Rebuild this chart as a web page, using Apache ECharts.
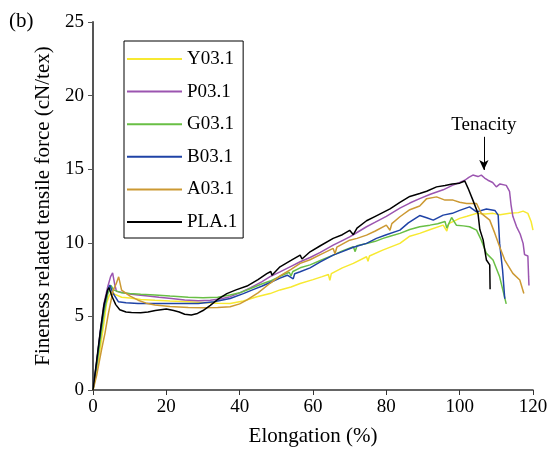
<!DOCTYPE html>
<html>
<head>
<meta charset="utf-8">
<script src="https://cdn.jsdelivr.net/npm/echarts@6/dist/echarts.min.js"></script>
<style>
  html, body { margin: 0; padding: 0; background: #fff; }
  #chart { width: 552px; height: 459px; }
</style>
</head>
<body>
<div id="chart"></div>
<script>
// elongation (%) / force (cN/tex) pairs
const Y031 = [[0,0],[1,1.3],[2,2.9],[3,4.6],[3.7,5.9],[4.4,6.4],[5.1,6.67],[6,6.5],[7.8,6.3],[10,6.25],[13,6.15],[16.9,6.1],[21,6.05],[26,6.0],[30,5.95],[34,5.9],[37.4,5.88],[41,6.05],[44.7,6.33],[48.3,6.55],[51,6.8],[54,7.0],[56.5,7.24],[60,7.5],[62.5,7.7],[64.2,7.85],[64.6,7.45],[65,7.9],[68,8.3],[71,8.6],[74.6,9.05],[75,8.75],[75.4,9.1],[79,9.5],[83.7,9.96],[86.4,10.45],[89.1,10.64],[92,10.9],[95.5,11.2],[96.5,10.8],[97,11.3],[100,11.66],[102,11.8],[104.6,12.0],[107,11.95],[109.1,12.0],[111,11.9],[113.6,12.0],[116,12.05],[117.3,12.15],[118.6,12.0],[119.5,11.43],[120,10.86]];
const P031 = [[0,0],[1,1.8],[2,4.0],[3,5.9],[4,7.0],[4.8,7.7],[5.35,7.96],[5.9,7.2],[6.4,6.7],[8,6.62],[10,6.52],[12.3,6.45],[15,6.38],[18,6.3],[21.4,6.22],[25,6.12],[28.7,6.07],[32,6.1],[35,6.2],[37.4,6.34],[40,6.6],[43,6.95],[46,7.35],[48.3,7.7],[51,8.03],[54,8.4],[56.5,8.71],[59.2,9.0],[62,9.35],[65.5,9.84],[68,10.15],[70,10.4],[72,10.7],[74.6,11.09],[77,11.4],[80,11.8],[83.7,12.35],[86.4,12.7],[89.1,13.0],[92,13.3],[95.5,13.6],[98,13.9],[100,14.1],[101.4,14.25],[102.5,14.45],[103.6,14.6],[105,14.5],[105.9,14.6],[106.8,14.4],[107.7,14.25],[109,14.1],[110,13.8],[111,14.0],[112.7,13.9],[113.6,13.5],[114,12.6],[114.5,11.8],[115.5,11.1],[116.5,10.6],[117.3,9.96],[117.7,9.2],[118.6,9.1],[118.8,7.7],[118.9,7.1]];
const G031 = [[0,0],[1,1.6],[2,3.4],[3,5.2],[4,6.5],[4.9,7.1],[5.6,6.8],[7.8,6.6],[10,6.55],[13,6.5],[16.9,6.45],[21,6.38],[26,6.3],[30,6.27],[34,6.3],[37.4,6.45],[40,6.6],[43,6.9],[46,7.2],[48.3,7.4],[51,7.72],[53.5,8.0],[54,7.75],[54.5,8.05],[56.5,8.3],[59.2,8.5],[62,8.8],[65.5,9.16],[68,9.45],[71,9.73],[71.5,9.4],[72,9.8],[74.6,9.95],[77,10.1],[79.1,10.3],[81,10.45],[83.7,10.64],[86.4,10.9],[89.1,11.09],[91.9,11.2],[94,11.3],[96,11.45],[96.5,11.0],[97.8,11.72],[99.1,11.2],[101,11.15],[102.7,11.09],[104.6,10.86],[105.9,10.18],[107.3,9.28],[109.1,8.83],[110.9,7.69],[112.7,5.85]];
const B031 = [[0,0],[1,1.9],[2,3.9],[3,5.6],[4,6.8],[4.6,7.13],[5.4,6.6],[6.9,6.0],[9,5.92],[12.3,5.88],[16,5.88],[21.4,5.88],[25,5.87],[28.7,5.88],[33,6.0],[37.4,6.22],[41,6.55],[44,6.85],[46,7.05],[48.3,7.3],[51,7.6],[53,7.8],[54.6,7.55],[55,7.9],[56.5,8.03],[59.2,8.3],[62,8.7],[65.5,9.16],[68,9.4],[71,9.7],[74.6,9.96],[77.3,10.3],[80,10.55],[83.7,10.86],[86,11.35],[89.1,11.85],[91,11.7],[92.8,11.54],[95.5,11.88],[98,12.0],[100,12.2],[102.7,12.44],[104.6,12.1],[107.3,12.3],[109.6,12.2],[110.5,11.88],[110.9,9.96],[111.7,8.15],[112.3,6.2]];
const A031 = [[0,0],[1,1.0],[2.3,2.7],[3.3,3.9],[4.2,5.2],[5.5,6.79],[6.3,7.2],[7.0,7.69],[7.8,6.79],[10,6.4],[12.3,6.1],[14.5,5.9],[16.9,5.77],[21,5.68],[26,5.61],[30,5.58],[34,5.6],[37.4,5.66],[40,5.85],[41.9,6.1],[45,6.6],[48.3,7.25],[51,7.75],[54,8.2],[56.5,8.6],[59.2,8.85],[62,9.2],[65.5,9.62],[66,9.25],[66.5,9.7],[70,10.18],[72,10.3],[74.6,10.52],[77,10.8],[80,11.2],[81,10.85],[81.5,11.3],[83.7,11.77],[86.4,12.25],[89.1,12.5],[91,13.0],[93.7,13.12],[96,12.9],[98.2,12.9],[100,12.75],[101.9,12.67],[104.6,12.67],[105.9,12.0],[108.2,11.54],[109.6,10.64],[110.9,9.73],[112.3,8.83],[114.5,7.92],[116.4,7.47],[117.5,6.56]];
const PLA1 = [[0,0],[1,2.0],[2,4.0],[3,5.8],[4,6.8],[4.4,6.95],[5.1,6.4],[6.2,5.8],[7.3,5.45],[9,5.3],[10.5,5.27],[13,5.25],[15,5.3],[17,5.4],[20,5.5],[22,5.4],[23.5,5.3],[25,5.15],[26.8,5.1],[28.5,5.2],[30,5.4],[32,5.75],[34,6.15],[36.5,6.55],[39,6.8],[42,7.06],[45,7.5],[47.4,7.9],[48.5,8.05],[48.8,7.8],[51,8.37],[54,8.8],[56.5,9.16],[57,8.9],[59.2,9.39],[62,9.8],[65.5,10.3],[68,10.55],[70,10.85],[71,10.55],[72,11.0],[74.6,11.5],[77,11.8],[79,12.05],[81,12.3],[83.7,12.75],[86.4,13.15],[89.1,13.35],[91,13.5],[93.7,13.8],[96,13.9],[98,14.0],[100,14.05],[101.4,14.2],[102.3,13.7],[103.6,12.9],[105,12.0],[105.5,10.9],[106.4,10.2],[107.3,8.83],[108.2,8.5],[108.3,6.85]];

const seriesNames = ['Y03.1', 'P03.1', 'G03.1', 'B03.1', 'A03.1', 'PLA.1'];
const seriesData = [Y031, P031, G031, B031, A031, PLA1];
const seriesColors = ['#f7e931', '#9b55b0', '#69bf45', '#1f43a6', '#cc9933', '#000000'];

// arrow for the tenacity label (elongation, force)
const tenacityFrom = [106.6, 17.2];
const tenacityTo = [106.6, 14.95];

const FONT = 'Liberation Serif';

const myChart = echarts.init(document.getElementById('chart'));

const series = seriesNames.map((name, i) => ({
    name: name,
    type: 'line',
    data: seriesData[i],
    symbol: 'none',
    z: 2 + i,
    lineStyle: { color: seriesColors[i], width: 1.5 },
    itemStyle: { color: seriesColors[i] }
}));

series[1].markLine = {
    silent: true,
    symbol: ['none', 'arrow'],
    symbolSize: [7, 10],
    lineStyle: { color: '#000', width: 1, type: 'solid' },
    label: {
        show: true,
        position: 'start',
        formatter: 'Tenacity',
        color: '#000',
        fontFamily: FONT,
        fontSize: 19,
        distance: 2
    },
    data: [[{ coord: tenacityFrom }, { coord: tenacityTo }]]
};

const option = {
    animation: false,
    backgroundColor: '#fff',
    title: {
        text: '(b)',
        left: 4,
        top: 6,
        textStyle: { fontFamily: FONT, fontSize: 21, fontWeight: 'normal', color: '#000' }
    },
    grid: { left: 93, right: 19, top: 22, bottom: 69 },
    legend: {
        orient: 'vertical',
        left: 124,
        top: 41,
        padding: [8, 6, 6, 3],
        icon: 'rect',
        itemWidth: 55,
        itemHeight: 2,
        itemGap: 12.6,
        borderColor: '#000',
        borderWidth: 1,
        data: seriesNames,
        textStyle: { fontFamily: FONT, fontSize: 19, color: '#000', lineHeight: 20 }
    },
    xAxis: {
        type: 'value',
        min: 0,
        max: 120,
        interval: 20,
        name: 'Elongation (%)',
        nameLocation: 'middle',
        nameGap: 36,
        nameTextStyle: { fontFamily: FONT, fontSize: 21, color: '#000' },
        axisLine: { lineStyle: { color: '#333', width: 1.5 } },
        axisTick: { show: true, length: 5, lineStyle: { color: '#333' } },
        axisLabel: { fontFamily: FONT, fontSize: 19, color: '#000', margin: 8 },
        splitLine: { show: false }
    },
    yAxis: {
        type: 'value',
        min: 0,
        max: 25,
        interval: 5,
        name: 'Fineness related tensile force (cN/tex)',
        nameLocation: 'middle',
        nameGap: 38,
        nameTextStyle: { fontFamily: FONT, fontSize: 21, color: '#000' },
        axisLine: { show: true, lineStyle: { color: '#555', width: 2 } },
        axisTick: { show: true, length: 5, lineStyle: { color: '#555' } },
        axisLabel: { fontFamily: FONT, fontSize: 19, color: '#000', margin: 9 },
        splitLine: { show: false }
    },
    series: series
};

myChart.setOption(option);
</script>
</body>
</html>
